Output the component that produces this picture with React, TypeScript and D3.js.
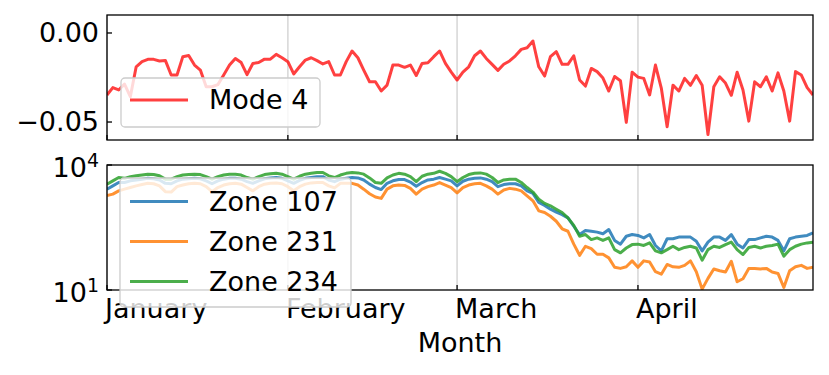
import React from "react";
import * as d3 from "d3";

// ---- data (daily, starting 1 January) ----
const startDate = new Date(2020, 0, 1);

const mode4: number[] = [
  -0.0348, -0.0307, -0.032, -0.0287, -0.0358, -0.019, -0.0161, -0.0148, -0.0148, -0.0157,
  -0.0154, -0.0236, -0.0236, -0.0133, -0.0126, -0.018, -0.0208, -0.0302, -0.0302, -0.029,
  -0.0236, -0.018, -0.0143, -0.0166, -0.0234, -0.0171, -0.0166, -0.0147, -0.0147, -0.012,
  -0.0139, -0.0161, -0.023, -0.019, -0.0152, -0.0139, -0.0155, -0.0174, -0.0161, -0.0236,
  -0.0236, -0.0161, -0.0101, -0.0139, -0.0208, -0.0274, -0.0274, -0.0326, -0.0293, -0.018,
  -0.018, -0.0193, -0.018, -0.0239, -0.0171, -0.0167, -0.0133, -0.0101, -0.0171, -0.022,
  -0.0264, -0.022, -0.019, -0.0128, -0.0101, -0.0143, -0.0176, -0.021, -0.0176, -0.0157,
  -0.0128, -0.0092, -0.0083, -0.0045, -0.019, -0.0242, -0.0133, -0.0105, -0.0176, -0.0176,
  -0.0128, -0.0264, -0.0298, -0.0199, -0.0217, -0.0253, -0.0326, -0.0244, -0.0268, -0.0502,
  -0.022, -0.0248, -0.0255, -0.0348, -0.018, -0.0309, -0.0527, -0.0293, -0.0326, -0.0255,
  -0.0294, -0.0239, -0.0293, -0.057, -0.0302, -0.0246, -0.0281, -0.035, -0.022, -0.032,
  -0.0495, -0.0274, -0.0302, -0.0246, -0.0326, -0.0224, -0.0326, -0.0495, -0.0217, -0.0236,
  -0.0307, -0.0348,
];

const zone107: number[] = [
  2630, 3160, 3800, 3800, 4170, 4370, 4570, 4790, 4680, 4370,
  3630, 3550, 4170, 4570, 4680, 4790, 4680, 4170, 3550, 4170,
  4570, 4790, 4790, 4570, 3980, 3630, 4170, 4680, 4900, 5010,
  4790, 4170, 3630, 4270, 4790, 5010, 5250, 5250, 4370, 3980,
  4570, 4790, 5010, 4900, 4370, 3470, 2880, 2570, 3630, 4170,
  4470, 4470, 3890, 3090, 3800, 4370, 4570, 5010, 4570, 4170,
  3160, 4070, 4570, 4790, 4900, 4570, 3980, 3020, 3390, 3550,
  3550, 3160, 2400, 2090, 1260, 1070, 871, 741, 646, 537,
  339, 214, 269, 257, 245, 224, 282, 155, 126, 195,
  214, 204, 178, 214, 117, 87, 170, 170, 186, 186,
  186, 148, 87, 141, 186, 186, 155, 214, 126, 102,
  162, 162, 178, 195, 186, 155, 87, 170, 186, 195,
  204, 234,
];

const zone231: number[] = [
  1860, 2000, 2400, 2630, 2880, 3160, 3390, 3630, 3550, 3160,
  2290, 2240, 3020, 3310, 3550, 3630, 3550, 3020, 2290, 2880,
  3310, 3550, 3630, 3470, 2880, 2400, 3020, 3470, 3630, 3720,
  3550, 3020, 2400, 3020, 3470, 3720, 3800, 3800, 3160, 2820,
  3630, 3630, 3630, 3310, 2630, 2040, 1700, 1580, 2630, 3160,
  3310, 3240, 2750, 2000, 2630, 3020, 3310, 3800, 3310, 2880,
  2140, 2880, 3310, 3550, 3630, 3160, 2630, 2000, 2510, 2750,
  2630, 2400, 1820, 1380, 794, 724, 589, 447, 295, 257,
  126, 68, 112, 98, 72, 72, 59, 35, 33, 36,
  50, 35, 50, 47, 27.5, 24, 41, 36, 35, 39,
  50, 27.5, 10.5, 19, 32, 29, 27, 49, 15.8, 18.6,
  33, 33, 32, 33, 27, 25, 11.5, 29, 36, 39,
  33, 35,
];

const zone234: number[] = [
  3470, 4170, 5010, 4790, 5250, 5500, 5750, 6030, 5890, 5500,
  4570, 4570, 5250, 5750, 5890, 6030, 5890, 5250, 4570, 5250,
  5750, 6030, 6030, 5750, 5010, 4570, 5250, 5890, 6170, 6310,
  6030, 5250, 4570, 5370, 6030, 6310, 6610, 6610, 5500, 5010,
  5750, 6310, 6610, 6460, 6030, 4900, 3800, 3630, 4900, 5750,
  6310, 6030, 5250, 3980, 5370, 6030, 6310, 7080, 6310, 5250,
  3980, 5010, 5890, 6310, 6460, 6030, 5010, 3800, 4370, 4570,
  4570, 3800, 2880, 2240, 1510, 1200, 1050, 870, 724, 537,
  355, 195, 214, 162, 178, 155, 178, 93, 78, 102,
  123, 126, 117, 135, 87, 78, 93, 112, 93, 105,
  112, 102, 52, 93, 112, 105, 123, 141, 93, 71,
  105, 112, 102, 112, 117, 126, 65, 93, 112, 126,
  135, 141,
];

const topTicks: number[] = [0, -0.05];
const bottomTicks: number[] = [10, 10000];
const zoneNames: string[] = ["Zone 107", "Zone 231", "Zone 234"];
const zoneColors: string[] = ["#1f77b4", "#ff7f0e", "#2ca02c"];
const modeName = "Mode 4";
const xLabel = "Month";

// ---- layout ----
const W = 829;
const H = 375;
const L = 107;
const R = 813;
const topP = { y0: 15, y1: 140 };
const botP = { y0: 165, y1: 290 };
const FONT = "'DejaVu Sans', sans-serif";
const FS = 27;

export default function App() {
  const dates = mode4.map((_, i) => d3.timeDay.offset(startDate, i));
  const x = d3
    .scaleTime()
    .domain([startDate, dates[dates.length - 1]])
    .range([L, R]);
  const yTop = d3.scaleLinear().domain([-0.0601, 0.0101]).range([topP.y1, topP.y0]);
  const yBot = d3.scaleLog().domain([10, 10000]).range([botP.y1, botP.y0]);

  const months = d3.timeMonth.range(startDate, dates[dates.length - 1]);
  const monthFmt = d3.timeFormat("%B");
  const numFmt = d3.format(".2f");

  const lineTop = d3
    .line<number>()
    .x((_, i) => x(dates[i]))
    .y((d) => yTop(d));
  const lineBot = d3
    .line<number>()
    .x((_, i) => x(dates[i]))
    .y((d) => yBot(d));

  const zones = [zone107, zone231, zone234];

  const grid = (y0: number, y1: number) =>
    months.map((m, i) => (
      <line key={"g" + i} x1={x(m)} x2={x(m)} y1={y0} y2={y1} stroke="#d6d6d6" strokeWidth={1.5} />
    ));
  const xTickMarks = (y1: number) =>
    months.map((m, i) => (
      <line key={"t" + i} x1={x(m)} x2={x(m)} y1={y1} y2={y1 - 5} stroke="#000" strokeWidth={1.3} />
    ));

  return (
    <svg
      width={W}
      height={H}
      style={{ position: "absolute", left: 0, top: 0, background: "#fff" }}
      fontFamily={FONT}
    >
      <defs>
        <clipPath id="clipTop">
          <rect x={L} y={topP.y0} width={R - L} height={topP.y1 - topP.y0} />
        </clipPath>
        <clipPath id="clipBot">
          <rect x={L} y={botP.y0} width={R - L} height={botP.y1 - botP.y0} />
        </clipPath>
      </defs>

      {/* ---- top panel ---- */}
      {grid(topP.y0, topP.y1)}
      <path
        d={lineTop(mode4) || ""}
        fill="none"
        stroke="#ff0000"
        strokeOpacity={0.75}
        strokeWidth={3}
        strokeLinejoin="round"
        clipPath="url(#clipTop)"
      />
      <rect x={L} y={topP.y0} width={R - L} height={topP.y1 - topP.y0} fill="none" stroke="#000" strokeWidth={1.3} />
      {xTickMarks(topP.y1)}
      {topTicks.map((t, i) => (
        <g key={"yt" + i}>
          <line x1={L} x2={L + 5} y1={yTop(t)} y2={yTop(t)} stroke="#000" strokeWidth={1.3} />
          <text x={L - 8} y={yTop(t)} dy="0.35em" textAnchor="end" fontSize={FS}>
            {numFmt(t)}
          </text>
        </g>
      ))}
      <g>
        <rect x={121} y={78} width={199} height={49} rx={4} fill="#fff" fillOpacity={0.8} stroke="#cccccc" strokeWidth={1.3} />
        <line x1={130} x2={188} y1={100} y2={100} stroke="#ff0000" strokeOpacity={0.75} strokeWidth={3} />
        <text x={209} y={100} dy="0.35em" fontSize={FS}>
          {modeName}
        </text>
      </g>

      {/* ---- bottom panel ---- */}
      {grid(botP.y0, botP.y1)}
      {zones.map((z, k) => (
        <path
          key={"z" + k}
          d={lineBot(z) || ""}
          fill="none"
          stroke={zoneColors[k]}
          strokeOpacity={0.85}
          strokeWidth={3}
          strokeLinejoin="round"
          clipPath="url(#clipBot)"
        />
      ))}
      <rect x={L} y={botP.y0} width={R - L} height={botP.y1 - botP.y0} fill="none" stroke="#000" strokeWidth={1.3} />
      {xTickMarks(botP.y1)}
      {bottomTicks.map((t, i) => (
        <g key={"yb" + i}>
          <line x1={L} x2={L + 5} y1={yBot(t)} y2={yBot(t)} stroke="#000" strokeWidth={1.3} />
          <text x={L - 8} y={yBot(t)} dy="0.45em" textAnchor="end" fontSize={FS}>
            10
            <tspan fontSize={FS * 0.7} dy="-0.55em">
              {Math.round(Math.log10(t))}
            </tspan>
          </text>
        </g>
      ))}
      {months.map((m, i) => (
        <text key={"ml" + i} x={x(m) - 2} y={318} fontSize={FS}>
          {monthFmt(m)}
        </text>
      ))}
      <text x={(L + R) / 2} y={352} textAnchor="middle" fontSize={FS}>
        {xLabel}
      </text>
      <g>
        <rect x={120} y={178} width={231} height={129} rx={4} fill="#fff" fillOpacity={0.8} stroke="#cccccc" strokeWidth={1.3} />
        {zoneNames.map((n, k) => (
          <g key={"lg" + k}>
            <line x1={130} x2={188} y1={201.5 + k * 40} y2={201.5 + k * 40} stroke={zoneColors[k]} strokeOpacity={0.85} strokeWidth={3} />
            <text x={209} y={201.5 + k * 40} dy="0.35em" fontSize={FS}>
              {n}
            </text>
          </g>
        ))}
      </g>
    </svg>
  );
}
